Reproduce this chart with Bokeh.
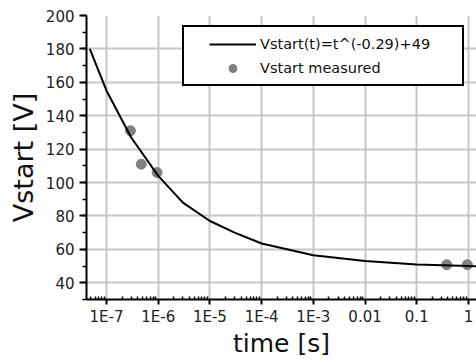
from bokeh.plotting import figure
from bokeh.models import (FixedTicker, SingleIntervalTicker, Legend, LegendItem,
                          Range1d)
from bokeh.embed import file_html
from bokeh.resources import INLINE

# fitted curve
fit_t = [4.75e-8, 1e-7, 3e-7, 1e-6, 3e-6, 1e-5, 3e-5, 1e-4, 1e-3, 1e-2, 1e-1, 1.0, 1.5]
fit_v = [180, 155, 127, 104, 88, 77, 70, 63.5, 56.5, 53, 51, 50, 49.9]

# measured points
meas_t = [2.9e-7, 4.7e-7, 9.5e-7, 0.38, 0.95]
meas_v = [131, 111, 106, 50.8, 50.8]

x_tick_vals = [1e-7, 1e-6, 1e-5, 1e-4, 1e-3, 1e-2, 1e-1, 1.0]
x_tick_labels = ["1E-7", "1E-6", "1E-5", "1E-4", "1E-3", "0.01", "0.1", "1"]

fit_label = "Vstart(t)=t^(-0.29)+49"
meas_label = "Vstart measured"
x_title = "time [s]"
y_title = "Vstart [V]"

FONT = "DejaVu Sans"

p = figure(width=476, height=360, x_axis_type="log",
           x_range=Range1d(4.1e-8, 1.43), y_range=Range1d(30, 200),
           output_backend="svg", toolbar_location=None,
           min_border_left=86, min_border_right=0, min_border_top=15,
           min_border_bottom=61)
p.outline_line_color = None
p.background_fill_color = "white"

minor = [m * d for d in [1e-8, 1e-7, 1e-6, 1e-5, 1e-4, 1e-3, 1e-2, 1e-1, 1.0]
         for m in range(2, 10)]
p.xaxis.ticker = FixedTicker(ticks=x_tick_vals, minor_ticks=minor)
p.xaxis.major_label_overrides = dict(zip(x_tick_vals, x_tick_labels))
p.yaxis.ticker = SingleIntervalTicker(interval=20, num_minor_ticks=2)

for ax in (p.xaxis[0], p.yaxis[0]):
    ax.axis_line_width = 2
    ax.axis_line_color = "black"
    ax.major_tick_line_width = 2
    ax.minor_tick_line_width = 1.5
    ax.major_tick_line_color = "black"
    ax.minor_tick_line_color = "black"
    ax.major_label_text_font = FONT
    ax.major_label_text_font_size = "15px"
    ax.major_label_text_color = "#222222"
    ax.axis_label_text_font = FONT
    ax.axis_label_text_font_style = "normal"
    ax.axis_label_text_color = "#111111"

p.xaxis.major_tick_in = 0
p.xaxis.major_tick_out = 5
p.xaxis.minor_tick_in = 3
p.xaxis.minor_tick_out = 0
p.xaxis.major_label_standoff = 3
p.xaxis.axis_label = x_title
p.xaxis.axis_label_text_font_size = "25px"
p.xaxis.axis_label_standoff = 0

p.yaxis.major_tick_in = 0
p.yaxis.major_tick_out = 7
p.yaxis.minor_tick_in = 0
p.yaxis.minor_tick_out = 4
p.yaxis.major_label_standoff = 5
p.yaxis.axis_label = y_title
p.yaxis.axis_label_text_font_size = "27px"
p.yaxis.axis_label_standoff = 4

p.xgrid.ticker = FixedTicker(ticks=x_tick_vals)
for g in (p.xgrid[0], p.ygrid[0]):
    g.grid_line_color = "#c6c6c6"
    g.grid_line_width = 2

pts_r = p.scatter(meas_t, meas_v, size=10, fill_color="#808080",
                  line_color="#808080")
line_r = p.line(fit_t, fit_v, line_color="black", line_width=2)

# white legend frame (an empty legend item used only for its box)
blank_r = p.scatter([], [], alpha=0)
frame_legend = Legend(items=[LegendItem(label=" ", renderers=[blank_r])],
                      location=(96, 213), padding=0, margin=0,
                      glyph_width=278, glyph_height=57, label_height=20,
                      label_width=0, label_standoff=0,
                      label_text_alpha=0, label_text_font_size="10px",
                      border_line_color="black", border_line_width=2,
                      border_line_alpha=1.0,
                      background_fill_color="white", background_fill_alpha=1.0)
p.add_layout(frame_legend)

legend = Legend(items=[LegendItem(label=fit_label, renderers=[line_r]),
                       LegendItem(label=meas_label, renderers=[pts_r])],
                location=(123, 221), padding=0, margin=0, spacing=4,
                glyph_width=47, glyph_height=20, label_height=20,
                label_standoff=4, border_line_color=None,
                background_fill_alpha=0,
                label_text_font=FONT, label_text_font_size="14.5px",
                label_text_color="#111111")
p.add_layout(legend)

open("out.html", "w").write(file_html(p, INLINE))
